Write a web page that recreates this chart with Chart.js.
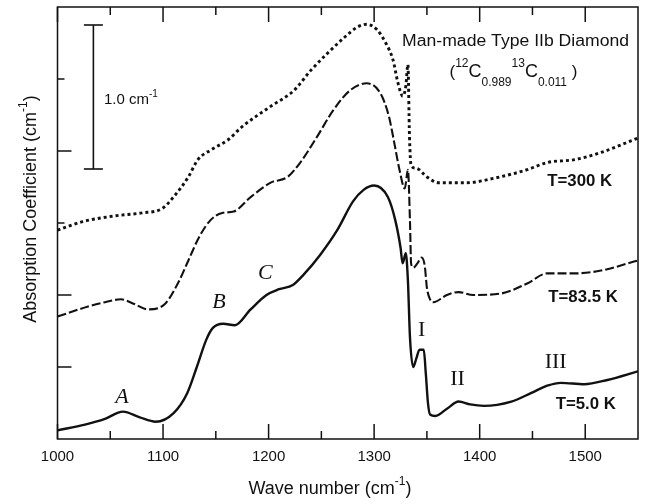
<!DOCTYPE html>
<html><head><meta charset="utf-8">
<script src="https://cdn.jsdelivr.net/npm/chart.js@4.4.1/dist/chart.umd.min.js"></script>
<style>html,body{margin:0;padding:0;background:#fff;}canvas{display:block;}</style>
</head><body>
<canvas id="c" width="646" height="504"></canvas>
<script>
// ---- Data (wave number in cm^-1, absorption coefficient in cm^-1, offset per trace) ----
const wave5K = [1000,1026,1045,1062,1078,1093,1110,1123,1132,1141,1147,1157,1168,1183,1198,1210,1223,1233,1249,1265,1280,1290,1300,1313,1320,1325,1327,1330,1332,1334,1337,1340,1343,1347,1349,1351,1353,1358,1369,1380,1391,1404,1430,1449,1464,1477,1499,1521,1550];
const abs5K  = [0.06,0.10,0.14,0.19,0.15,0.12,0.18,0.32,0.50,0.69,0.77,0.80,0.79,0.90,1.00,1.04,1.07,1.14,1.28,1.45,1.65,1.73,1.76,1.68,1.52,1.33,1.22,1.29,1.10,0.70,0.50,0.56,0.62,0.62,0.45,0.25,0.17,0.16,0.21,0.26,0.24,0.23,0.26,0.32,0.37,0.39,0.38,0.41,0.47];

const wave83K = [1000,1029,1045,1060,1072,1086,1102,1114,1124,1134,1145,1156,1167,1183,1202,1218,1230,1246,1261,1277,1293,1306,1314,1319,1324,1329,1332,1334,1335,1337,1341,1345,1348,1350,1353,1356,1369,1380,1394,1420,1445,1464,1490,1515,1550];
const abs83K  = [0.85,0.92,0.95,0.97,0.94,0.90,0.94,1.08,1.24,1.40,1.52,1.57,1.58,1.68,1.78,1.82,1.92,2.10,2.28,2.42,2.47,2.40,2.24,2.06,1.87,1.74,1.87,1.50,1.22,1.19,1.22,1.26,1.20,1.05,0.97,0.95,1.00,1.02,1.00,1.01,1.08,1.15,1.15,1.17,1.24];

const wave300K = [1000,1024,1055,1080,1099,1111,1124,1133,1146,1162,1175,1188,1202,1224,1240,1256,1272,1284,1293,1303,1311,1318,1322,1325,1327,1330,1332,1333.5,1335,1340,1350,1361,1388,1413,1445,1464,1490,1515,1550];
const abs300K  = [1.45,1.51,1.55,1.57,1.60,1.69,1.82,1.94,2.01,2.08,2.17,2.24,2.31,2.42,2.56,2.68,2.79,2.86,2.88,2.84,2.75,2.63,2.49,2.41,2.38,2.45,2.60,2.10,1.90,1.88,1.82,1.78,1.78,1.81,1.87,1.92,1.94,1.99,2.09];

const xTickValues = [1000,1100,1200,1300,1400,1500];
const xMinorTicks = [1050,1150,1250,1350,1450];
const yTickMajor = [0.5,1.0,2.0];
const yTickMinor = [1.5,2.5];
const scaleBar = {x:1034, from:1.875, to:2.875, label:'1.0 cm', sup:'-1'};
const traceLabels = [
  {text:'T=300 K', x:1464, y:1.785},
  {text:'T=83.5 K', x:1465, y:0.979},
  {text:'T=5.0 K', x:1472, y:0.236}
];
const featureItalic = [{text:'A',x:1061,y:0.292},{text:'B',x:1153,y:0.951},{text:'C',x:1197,y:1.153}];
const featureRoman = [{text:'I',x:1345,y:0.757},{text:'II',x:1379,y:0.417},{text:'III',x:1472,y:0.535}];

const toPts = (xs, ys) => xs.map((v,i)=>({x:v, y:ys[i]}));
const SANS = '"Liberation Sans", Arial, sans-serif';
const SERIF = '"Liberation Serif", "Times New Roman", serif';

function drawRich(ctx, parts, x, y, align, sx){
  sx = sx || 1;
  let w = 0;
  parts.forEach(p=>{ctx.font=p.f; p.w=ctx.measureText(p.t).width; w+=p.w;});
  ctx.save();
  ctx.translate(x, y);
  ctx.scale(sx, 1);
  let cx = align==='center' ? -w/2 : (align==='right' ? -w : 0);
  parts.forEach(p=>{ctx.font=p.f; ctx.textAlign='left'; ctx.fillText(p.t, cx, p.dy||0); cx+=p.w;});
  ctx.restore();
}

const deco = {
  id:'deco',
  afterDraw(chart){
    const {ctx, chartArea:a, scales:{x, y}} = chart;
    ctx.save();
    ctx.strokeStyle='#111'; ctx.fillStyle='#111'; ctx.lineWidth=1.5;
    ctx.strokeRect(a.left, a.top, a.right-a.left, a.bottom-a.top);
    const line=(x1,y1,x2,y2)=>{ctx.beginPath();ctx.moveTo(x1,y1);ctx.lineTo(x2,y2);ctx.stroke();};
    xTickValues.concat(xMinorTicks).forEach(v=>{
      const px=x.getPixelForValue(v); const L = xTickValues.includes(v)?15:8;
      line(px,a.bottom,px,a.bottom-L); line(px,a.top,px,a.top+L);
    });
    yTickMajor.forEach(v=>{const py=y.getPixelForValue(v); line(a.left,py,a.left+14,py);});
    yTickMinor.forEach(v=>{const py=y.getPixelForValue(v); line(a.left,py,a.left+7,py);});
    // scale bar
    const bx=x.getPixelForValue(scaleBar.x), b1=y.getPixelForValue(scaleBar.from), b2=y.getPixelForValue(scaleBar.to);
    ctx.lineWidth=1.6;
    line(bx,b1,bx,b2); line(bx-9.5,b1,bx+9.5,b1); line(bx-9.5,b2,bx+9.5,b2);
    ctx.textBaseline='middle';
    drawRich(ctx,[{t:scaleBar.label,f:'15px '+SANS},{t:scaleBar.sup,f:'10px '+SANS,dy:-6}],
      x.getPixelForValue(1044), y.getPixelForValue(2.354),'left');
    // title
    ctx.textBaseline='alphabetic';
    drawRich(ctx,[{t:'Man-made Type IIb Diamond',f:'16px '+SANS}],
      x.getPixelForValue(1434), y.getPixelForValue(2.729),'center',1.1);
    drawRich(ctx,[
      {t:'(',f:'17px '+SANS},
      {t:'12',f:'12px '+SANS,dy:-10},
      {t:'C',f:'18px '+SANS},
      {t:'0.989',f:'12px '+SANS,dy:9},
      {t:'13',f:'12px '+SANS,dy:-10},
      {t:'C',f:'18px '+SANS},
      {t:'0.011',f:'12px '+SANS,dy:9},
      {t:' )',f:'17px '+SANS}
    ], x.getPixelForValue(1432), y.getPixelForValue(2.514),'center',1.0);
    // trace labels
    ctx.textBaseline='middle';
    traceLabels.forEach(l=>drawRich(ctx,[{t:l.text,f:'bold 16px '+SANS}],x.getPixelForValue(l.x),y.getPixelForValue(l.y),'left',1.05));
    featureItalic.forEach(l=>drawRich(ctx,[{t:l.text,f:'italic 22px '+SERIF}],x.getPixelForValue(l.x),y.getPixelForValue(l.y),'center'));
    featureRoman.forEach(l=>drawRich(ctx,[{t:l.text,f:'22px '+SERIF}],x.getPixelForValue(l.x),y.getPixelForValue(l.y),'center'));
    // axis titles
    drawRich(ctx,[{t:'Wave number (cm',f:'18px '+SANS},{t:'-1',f:'12px '+SANS,dy:-7},{t:')',f:'18px '+SANS}],
      330, 489, 'center');
    ctx.translate(31, 209); ctx.rotate(-Math.PI/2);
    drawRich(ctx,[{t:'Absorption Coefficient (cm',f:'18px '+SANS},{t:'-1',f:'12px '+SANS,dy:-7},{t:')',f:'18px '+SANS}],
      0, 0, 'center');
    ctx.restore();
  }
};

const common = {pointRadius:0, borderColor:'#111', fill:false, cubicInterpolationMode:'monotone', tension:0.4};
new Chart(document.getElementById('c'), {
  type:'line',
  data:{datasets:[
    Object.assign({label:'T=300 K', data:toPts(wave300K, abs300K), borderWidth:2.9, borderDash:[3,3]}, common),
    Object.assign({label:'T=83.5 K', data:toPts(wave83K, abs83K), borderWidth:2.1, borderDash:[9,3]}, common),
    Object.assign({label:'T=5.0 K', data:toPts(wave5K, abs5K), borderWidth:2.4}, common)
  ]},
  options:{
    responsive:false, animation:false, devicePixelRatio:1,
    layout:{padding:{top:7,right:8,left:0,bottom:0}},
    plugins:{legend:{display:false}, tooltip:{enabled:false}},
    scales:{
      x:{type:'linear', min:1000, max:1550,
        grid:{display:false, drawTicks:false}, border:{display:false},
        ticks:{stepSize:100, includeBounds:false, autoSkip:false, maxRotation:0, padding:9,
          color:'#111', font:{size:15, family:SANS},
          callback:v=> xTickValues.includes(v) ? String(v) : ''},
        afterFit:ax=>{ax.height=65;}
      },
      y:{min:0, max:3,
        grid:{display:false, drawTicks:false}, border:{display:false},
        ticks:{display:false},
        afterFit:ax=>{ax.width=57.5;}
      }
    }
  },
  plugins:[deco]
});
</script>
</body></html>
